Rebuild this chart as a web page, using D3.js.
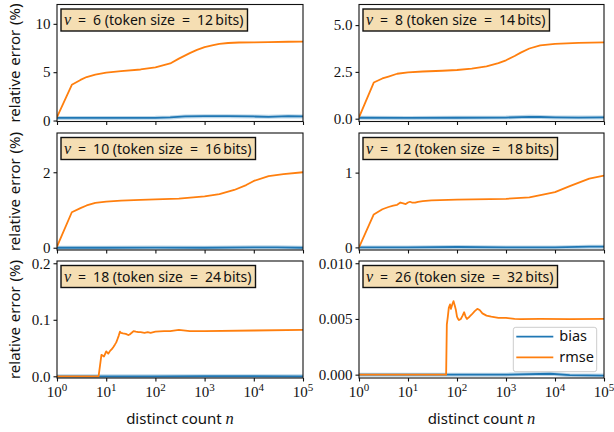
<!DOCTYPE html>
<html>
<head>
<meta charset="utf-8">
<script src="https://cdn.jsdelivr.net/npm/d3@7"></script>
<style>
  body { margin: 0; background: #fff; }
  svg { display: block; }
</style>
</head>
<body>
<div id="chart"></div>
<script>
// distinct count n and relative error (%)

// v = 6
const rmseN6 = [1, 2, 3, 4, 6, 10, 20, 50, 100, 200, 300, 500, 700, 1000, 1500, 2000, 3000, 5000, 10000, 20000, 50000, 100000];
const rmse6 = [0.35, 3.7, 4.2, 4.5, 4.75, 4.95, 5.1, 5.28, 5.5, 5.9, 6.4, 6.97, 7.3, 7.6, 7.8, 7.93, 8.02, 8.07, 8.09, 8.1, 8.15, 8.17];
const biasN6 = [1, 10, 100, 200, 400, 1000, 3000, 10000, 20000, 50000, 100000];
const bias6 = [0.27, 0.27, 0.28, 0.32, 0.42, 0.45, 0.45, 0.42, 0.38, 0.45, 0.42];

// v = 8
const rmseN8 = [1, 2, 3, 4, 6, 10, 20, 50, 100, 200, 400, 700, 1000, 1500, 2000, 3000, 5000, 10000, 30000, 100000];
const rmse8 = [0.07, 1.93, 2.15, 2.25, 2.4, 2.47, 2.52, 2.56, 2.6, 2.68, 2.8, 2.97, 3.12, 3.35, 3.53, 3.75, 3.92, 4.0, 4.05, 4.08];
const biasN8 = [1, 10, 100, 1000, 3000, 5000, 10000, 30000, 100000];
const bias8 = [0.05, 0.04, 0.05, 0.06, 0.1, 0.09, 0.07, 0.06, 0.07];

// v = 10
const rmseN10 = [1, 2, 3, 4, 6, 10, 20, 50, 100, 300, 1000, 2000, 4000, 7000, 10000, 20000, 40000, 100000];
const rmse10 = [0.03, 0.94, 1.05, 1.12, 1.19, 1.22, 1.25, 1.27, 1.28, 1.3, 1.36, 1.42, 1.53, 1.66, 1.77, 1.9, 1.95, 2.0];
const biasN10 = [1, 10, 100, 1000, 10000, 30000, 100000];
const bias10 = [0.0, 0.0, 0.005, 0.0, 0.01, 0.01, 0.0];

// v = 12
const rmseN12 = [1, 2, 3, 4, 5, 6, 7, 8, 9, 10, 11, 12, 14, 16, 20, 30, 100, 1000, 3000, 6000, 10000, 20000, 50000, 100000];
const rmse12 = [0, 0.44, 0.51, 0.54, 0.56, 0.57, 0.6, 0.59, 0.58, 0.6, 0.61, 0.6, 0.6, 0.61, 0.62, 0.63, 0.64, 0.65, 0.67, 0.71, 0.74, 0.82, 0.92, 0.96];
const biasN12 = [1, 10, 100, 1000, 10000, 50000, 100000];
const bias12 = [0.0, 0.0, 0.005, 0.0, 0.0, 0.01, 0.01];

// v = 18
const rmseN18 = [1, 7, 8, 9, 10, 11, 12, 13, 14, 15, 16, 17, 18, 19, 20, 22, 25, 28, 30, 33, 36, 40, 45, 50, 60, 70, 80, 100, 150, 200, 300, 500, 1000, 10000, 100000];
const rmse18 = [0, 0, 0.038, 0.035, 0.044, 0.04, 0.045, 0.048, 0.052, 0.056, 0.06, 0.066, 0.072, 0.079, 0.077, 0.076, 0.075, 0.073, 0.074, 0.077, 0.08, 0.079, 0.078, 0.078, 0.077, 0.078, 0.077, 0.079, 0.08, 0.08, 0.082, 0.08, 0.08, 0.081, 0.082];
const biasN18 = [1, 100, 1000, 100000];
const bias18 = [0, 0, 0.0003, 0];

// v = 26
const rmseN26 = [1, 60, 62, 65, 68, 72, 75, 80, 85, 90, 95, 100, 105, 110, 120, 130, 140, 150, 160, 180, 200, 230, 260, 290, 330, 400, 500, 700, 1000, 1500, 2000, 5000, 20000, 100000];
const rmse26 = [0, 0, 0.0045, 0.0052, 0.006, 0.0063, 0.0059, 0.0063, 0.0066, 0.0062, 0.0058, 0.0052, 0.005, 0.0049, 0.005, 0.0053, 0.0056, 0.0052, 0.005, 0.0052, 0.0054, 0.0057, 0.0059, 0.0058, 0.0055, 0.0053, 0.0052, 0.0051, 0.0051, 0.005, 0.00498, 0.005, 0.00498, 0.005];
const biasN26 = [1, 100, 1000, 8000, 20000, 100000];
const bias26 = [0, 0, 0, 0.00008, -0.00005, -0.00008];

const xTicks = [0, 1, 2, 3, 4, 5];

const panels = [
  { v: 6,  bits: 12, col: 0, row: 0, yDomain: [-0.1, 12], yTicks: [0, 5, 10], fmt: d3.format("d"), rmseN: rmseN6, rmse: rmse6, biasN: biasN6, bias: bias6 },
  { v: 8,  bits: 14, col: 1, row: 0, yDomain: [-0.15, 6.1], yTicks: [0, 2.5, 5], fmt: d3.format(".1f"), rmseN: rmseN8, rmse: rmse8, biasN: biasN8, bias: bias8 },
  { v: 10, bits: 16, col: 0, row: 1, yDomain: [-0.06, 3.04], yTicks: [0, 2], fmt: d3.format("d"), rmseN: rmseN10, rmse: rmse10, biasN: biasN10, bias: bias10 },
  { v: 12, bits: 18, col: 1, row: 1, yDomain: [-0.035, 1.53], yTicks: [0, 1], fmt: d3.format("d"), rmseN: rmseN12, rmse: rmse12, biasN: biasN12, bias: bias12 },
  { v: 18, bits: 24, col: 0, row: 2, yDomain: [-0.003, 0.204], yTicks: [0, 0.1, 0.2], fmt: d3.format(".1f"), rmseN: rmseN18, rmse: rmse18, biasN: biasN18, bias: bias18 },
  { v: 26, bits: 32, col: 1, row: 2, yDomain: [-0.0003, 0.0102], yTicks: [0, 0.005, 0.01], fmt: d3.format(".3f"), rmseN: rmseN26, rmse: rmse26, biasN: biasN26, bias: bias26 }
];

const W = 614, H = 432;
const colX = [[57, 303], [359, 604]];
const rowTop = [4.5, 133, 261];
const panelH = 117;

const blue = "#1f77b4", orange = "#ff7f0e";
const sans = "'Noto Sans', sans-serif";
const serif = "'Liberation Serif', serif";

const svg = d3.select("#chart").append("svg")
  .attr("width", W).attr("height", H);

panels.forEach((p, i) => {
  const [x0, x1] = colX[p.col];
  const top = rowTop[p.row], bottom = top + panelH;

  const x = d3.scaleLog().domain([1, 1e5]).range([x0, x1]);
  const y = d3.scaleLinear().domain(p.yDomain).range([bottom, top]);

  const g = svg.append("g");

  svg.append("clipPath").attr("id", "clip" + i)
    .append("rect").attr("x", x0).attr("y", top).attr("width", x1 - x0).attr("height", panelH);

  const line = d3.line().x(d => x(d[0])).y(d => y(d[1]));
  const biasPts = p.biasN.map((n, k) => [n, p.bias[k]]);
  const rmsePts = p.rmseN.map((n, k) => [n, p.rmse[k]]);

  const plot = g.append("g").attr("clip-path", `url(#clip${i})`);
  plot.append("path").attr("d", line(biasPts))
    .attr("fill", "none").attr("stroke", blue).attr("stroke-opacity", 0.3).attr("stroke-width", 4);
  plot.append("path").attr("d", line(biasPts))
    .attr("fill", "none").attr("stroke", blue).attr("stroke-width", 1.8);
  plot.append("path").attr("d", line(rmsePts))
    .attr("fill", "none").attr("stroke", orange).attr("stroke-width", 1.8)
    .attr("stroke-linejoin", "round");

  // frame
  g.append("rect").attr("x", x0).attr("y", top).attr("width", x1 - x0).attr("height", panelH)
    .attr("fill", "none").attr("stroke", "#111").attr("stroke-width", 1.1);

  // y ticks
  const yAxis = g.append("g").attr("transform", `translate(${x0},0)`)
    .call(d3.axisLeft(y).tickValues(p.yTicks).tickFormat(p.fmt).tickSize(3.5).tickPadding(3));
  yAxis.select(".domain").remove();
  yAxis.selectAll("line").attr("stroke", "#111").attr("stroke-width", 1.1);
  yAxis.selectAll("text").attr("font-family", serif).attr("font-size", 15).attr("fill", "#111");

  // x ticks
  const xAxis = g.append("g").attr("transform", `translate(0,${bottom})`)
    .call(d3.axisBottom(x).tickValues(xTicks.map(e => Math.pow(10, e))).tickFormat("").tickSize(3.5));
  xAxis.select(".domain").remove();
  xAxis.selectAll("line").attr("stroke", "#111").attr("stroke-width", 1.1);

  if (p.row === 2) {
    xTicks.forEach(e => {
      const t = g.append("text").attr("x", x(Math.pow(10, e))).attr("y", bottom + 19)
        .attr("text-anchor", "middle").attr("font-family", serif).attr("font-size", 15).attr("fill", "#111");
      t.append("tspan").text("10");
      t.append("tspan").attr("dy", -6).attr("font-size", 11).text(e);
    });
    const xl = g.append("text").attr("x", (x0 + x1) / 2).attr("y", 424)
      .attr("text-anchor", "middle").attr("font-family", sans).attr("font-size", 15).attr("fill", "#111");
    xl.append("tspan").text("distinct count ");
    xl.append("tspan").attr("font-family", serif).attr("font-style", "italic").attr("font-size", 16.5).text("n");
  }

  if (p.col === 0) {
    g.append("text")
      .attr("transform", `translate(20,${(top + bottom) / 2}) rotate(-90)`)
      .attr("text-anchor", "middle").attr("font-family", sans).attr("font-size", 15).attr("fill", "#111")
      .attr("word-spacing", 1)
      .text("relative error (%)");
  }

  // label box
  const lb = g.append("g");
  const lt = lb.append("text").attr("x", x0 + 7).attr("y", top + 20.5)
    .attr("font-family", sans).attr("font-size", 14).attr("fill", "#111");
  lt.append("tspan").attr("font-family", serif).attr("font-style", "italic").attr("font-size", 16).text("v");
  lt.append("tspan").text(`\u2002=\u2002${p.v} (token size\u2002=\u2002${p.bits}\u2009bits)`);
  const bb = lt.node().getBBox();
  lb.insert("rect", "text")
    .attr("x", x0 + 4).attr("y", top + 4.5)
    .attr("width", bb.width + 7).attr("height", 22)
    .attr("fill", "#f5deb3").attr("stroke", "#111").attr("stroke-width", 1.4);

  // legend in the last panel
  if (i === panels.length - 1) {
    const lg = g.append("g").attr("transform", `translate(${x1 - 90.7},${bottom - 50.7})`);
    lg.append("rect").attr("width", 83.4).attr("height", 44.4).attr("rx", 2.5)
      .attr("fill", "#fff").attr("fill-opacity", 0.8).attr("stroke", "#ccc").attr("stroke-width", 1);
    [["bias", blue], ["rmse", orange]].forEach(([name, c], k) => {
      const yy = 9.4 + k * 20.6;
      lg.append("line").attr("x1", 3).attr("x2", 40).attr("y1", yy).attr("y2", yy)
        .attr("stroke", c).attr("stroke-width", 1.8);
      lg.append("text").attr("x", 46).attr("y", yy + 4.5)
        .attr("font-family", sans).attr("font-size", 14.5).attr("fill", "#111").text(name);
    });
  }
});
</script>
</body>
</html>
